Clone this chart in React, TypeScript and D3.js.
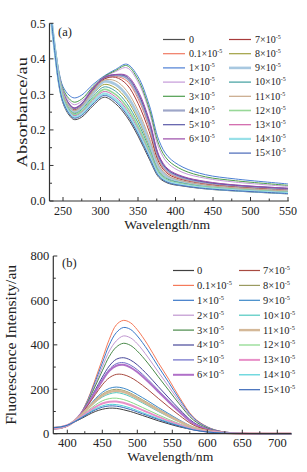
import React from "react";
import * as d3 from "d3";

// ---------- shared ----------
const CONC = ["0", "0.1", "1", "2", "3", "4", "5", "6", "7", "8", "9", "10", "11", "12", "13", "14", "15"];

// ---------- panel (a) absorbance ----------
const WL_A = [235, 240, 245, 250, 258, 265, 275, 290, 305, 320, 335, 350, 365, 378, 390, 410, 440, 480, 550];
const A_0 = [0.5, 0.4, 0.32, 0.275, 0.242, 0.229, 0.236, 0.268, 0.292, 0.274, 0.237, 0.183, 0.118, 0.066, 0.05, 0.042, 0.034, 0.028, 0.02];
const A_01 = [0.5, 0.415, 0.344, 0.302, 0.27, 0.258, 0.27, 0.313, 0.344, 0.351, 0.338, 0.288, 0.207, 0.114, 0.08, 0.062, 0.05, 0.041, 0.032];
const A_1 = [0.5, 0.425, 0.36, 0.322, 0.298, 0.29, 0.298, 0.328, 0.352, 0.37, 0.385, 0.35, 0.27, 0.17, 0.125, 0.095, 0.074, 0.062, 0.048];
const A_2 = [0.5, 0.42, 0.352, 0.312, 0.282, 0.271, 0.281, 0.32, 0.349, 0.364, 0.375, 0.335, 0.252, 0.148, 0.106, 0.08, 0.064, 0.053, 0.041];
const A_3 = [0.5, 0.422, 0.355, 0.316, 0.288, 0.278, 0.287, 0.322, 0.35, 0.367, 0.381, 0.342, 0.26, 0.158, 0.115, 0.087, 0.068, 0.057, 0.044];
const A_4 = [0.5, 0.416, 0.346, 0.304, 0.272, 0.26, 0.272, 0.315, 0.346, 0.354, 0.346, 0.298, 0.216, 0.12, 0.084, 0.065, 0.052, 0.043, 0.034];
const A_5 = [0.5, 0.417, 0.347, 0.305, 0.273, 0.261, 0.273, 0.316, 0.347, 0.355, 0.35, 0.304, 0.222, 0.124, 0.087, 0.067, 0.053, 0.044, 0.035];
const A_6 = [0.5, 0.418, 0.348, 0.306, 0.274, 0.262, 0.274, 0.317, 0.348, 0.356, 0.353, 0.31, 0.228, 0.128, 0.09, 0.069, 0.055, 0.045, 0.036];
const A_7 = [0.5, 0.414, 0.343, 0.301, 0.268, 0.256, 0.268, 0.311, 0.343, 0.348, 0.328, 0.275, 0.195, 0.108, 0.076, 0.059, 0.047, 0.039, 0.03];
const A_8 = [0.5, 0.411, 0.337, 0.295, 0.262, 0.249, 0.261, 0.3, 0.328, 0.318, 0.286, 0.23, 0.156, 0.087, 0.064, 0.052, 0.042, 0.034, 0.026];
const A_9 = [0.5, 0.412, 0.339, 0.297, 0.264, 0.252, 0.264, 0.305, 0.336, 0.328, 0.297, 0.242, 0.166, 0.093, 0.067, 0.054, 0.043, 0.035, 0.027];
const A_10 = [0.5, 0.41, 0.335, 0.292, 0.259, 0.246, 0.257, 0.294, 0.321, 0.309, 0.275, 0.22, 0.148, 0.082, 0.061, 0.05, 0.04, 0.033, 0.025];
const A_11 = [0.5, 0.413, 0.341, 0.299, 0.266, 0.254, 0.266, 0.308, 0.34, 0.338, 0.31, 0.255, 0.178, 0.1, 0.071, 0.056, 0.045, 0.037, 0.028];
const A_12 = [0.5, 0.409, 0.333, 0.289, 0.256, 0.243, 0.253, 0.288, 0.314, 0.3, 0.265, 0.21, 0.14, 0.078, 0.058, 0.048, 0.039, 0.032, 0.024];
const A_13 = [0.5, 0.407, 0.33, 0.286, 0.253, 0.24, 0.249, 0.283, 0.308, 0.293, 0.257, 0.202, 0.134, 0.075, 0.056, 0.046, 0.037, 0.031, 0.023];
const A_14 = [0.5, 0.405, 0.327, 0.282, 0.249, 0.236, 0.245, 0.278, 0.302, 0.286, 0.25, 0.195, 0.128, 0.072, 0.054, 0.045, 0.036, 0.03, 0.022];
const A_15 = [0.5, 0.403, 0.324, 0.279, 0.246, 0.233, 0.241, 0.273, 0.297, 0.28, 0.243, 0.189, 0.123, 0.069, 0.052, 0.043, 0.035, 0.029, 0.021];
const SERIES_A = [A_0, A_01, A_1, A_2, A_3, A_4, A_5, A_6, A_7, A_8, A_9, A_10, A_11, A_12, A_13, A_14, A_15];
const COLORS_A = ["#4d4d4d", "#f07a63", "#4c7fd4", "#c59ad8", "#4e9e4e", "#9ea6c8", "#5a58a8", "#9a4aa8", "#a83a3a",
  "#a0a040", "#a8c8e0", "#3e9e9e", "#c8a888", "#98d898", "#d060a8", "#98e0e8", "#4868b8"];
const WIDTHS_A = [1, 1, 1, 1, 1, 2.2, 1, 1, 1, 1, 2.6, 1, 1, 1.6, 1, 2.2, 1];
const XTICKS_A = [250, 300, 350, 400, 450, 500, 550];
const YTICKS_A = [0, 0.1, 0.2, 0.3, 0.4, 0.5];

// ---------- panel (b) fluorescence ----------
const WL_B = [380, 390, 400, 410, 420, 430, 440, 450, 460, 470, 480, 490, 500, 515, 530, 545, 560, 580, 600, 620, 650, 680, 720];
const F_0 = [28, 31, 38, 52, 68, 85, 100, 110, 115, 114, 108, 100, 90, 74, 58, 44, 31, 18, 9, 4, 1, 0, 0];
const F_01 = [22, 25, 34, 56, 96, 160, 245, 335, 425, 490, 510, 500, 468, 400, 320, 245, 165, 75, 31, 10, 2, 1, 0];
const F_1 = [22, 25, 34, 56, 95, 156, 235, 318, 400, 455, 478, 470, 440, 376, 302, 230, 156, 72, 30, 10, 2, 1, 0];
const F_2 = [22, 25, 34, 56, 94, 152, 225, 300, 372, 418, 440, 432, 405, 345, 278, 212, 145, 67, 28, 9, 2, 0, 0];
const F_3 = [22, 25, 34, 56, 93, 148, 215, 283, 348, 390, 407, 398, 372, 318, 256, 195, 134, 62, 26, 9, 2, 0, 0];
const F_4 = [23, 26, 35, 57, 92, 140, 198, 255, 305, 335, 342, 332, 310, 264, 212, 161, 111, 52, 22, 8, 1, 0, 0];
const F_5 = [23, 26, 35, 57, 91, 137, 191, 244, 290, 315, 320, 309, 288, 245, 196, 149, 103, 48, 20, 7, 1, 0, 0];
const F_6 = [23, 26, 35, 57, 91, 136, 188, 239, 283, 306, 310, 299, 278, 236, 189, 143, 99, 46, 19, 7, 1, 0, 0];
const F_7 = [24, 27, 36, 57, 89, 130, 176, 220, 252, 267, 266, 254, 235, 199, 159, 120, 83, 39, 17, 6, 1, 0, 0];
const F_8 = [25, 28, 37, 57, 85, 119, 152, 178, 194, 200, 195, 183, 166, 139, 111, 84, 58, 28, 12, 5, 1, 0, 0];
const F_9 = [24, 27, 36, 57, 86, 121, 157, 186, 204, 210, 205, 193, 176, 148, 118, 90, 62, 30, 13, 5, 1, 0, 0];
const F_10 = [25, 28, 37, 56, 83, 113, 142, 165, 179, 185, 179, 167, 151, 126, 100, 76, 53, 26, 11, 4, 1, 0, 0];
const F_11 = [25, 28, 37, 56, 84, 116, 147, 172, 187, 193, 188, 176, 159, 133, 106, 80, 56, 27, 12, 5, 1, 0, 0];
const F_12 = [26, 29, 38, 55, 79, 105, 129, 148, 158, 160, 154, 143, 129, 107, 85, 64, 45, 22, 10, 4, 1, 0, 0];
const F_13 = [26, 29, 38, 55, 76, 99, 120, 136, 144, 145, 139, 129, 116, 96, 76, 57, 40, 20, 9, 4, 1, 0, 0];
const F_14 = [27, 30, 38, 54, 73, 93, 112, 125, 132, 131, 125, 116, 104, 86, 68, 51, 36, 18, 8, 3, 1, 0, 0];
const F_15 = [27, 30, 38, 53, 71, 90, 107, 119, 125, 124, 118, 109, 98, 81, 64, 48, 34, 17, 8, 3, 1, 0, 0];
const SERIES_B = [F_0, F_01, F_1, F_2, F_3, F_4, F_5, F_6, F_7, F_8, F_9, F_10, F_11, F_12, F_13, F_14, F_15];
const COLORS_B = ["#404040", "#f57a5a", "#3a78c8", "#c096d0", "#4a8a4a", "#48489a", "#6a6ac8", "#b070c8", "#a84a40",
  "#9a9a60", "#3c88c8", "#50c8c0", "#d4b898", "#88d888", "#e890c8", "#50d0d8", "#3a68b8"];
const WIDTHS_B = [1, 1, 1, 1, 1, 1, 1, 2, 1, 1, 1, 1, 2.4, 1, 2, 1, 1];
const XTICKS_B = [400, 450, 500, 550, 600, 650, 700];
const YTICKS_B = [0, 200, 400, 600, 800];

const FONT = "'Liberation Serif', 'Times New Roman', serif";
const AXIS = "#333";

type PanelProps = {
  tag: string;
  wl: number[];
  series: number[][];
  colors: string[];
  widths: number[];
  xDomain: [number, number];
  xRange: [number, number];
  yDomain: [number, number];
  yRange: [number, number];
  xTicks: number[];
  xMinorStep: number;
  yTicks: number[];
  yMinorStep: number;
  yFmt: (v: number) => string;
  yLabel: string;
  yLabelX: number;
  yLabelLen: number;
  xLabelY: number;
  xTickY: number;
  tickFont: number;
  tagPos: [number, number];
  legend: { x1: number; x2: number; tx: number; y0: number; dy: number; font: number };
};

function LegendLabel({ c, font }: { c: string; font: number }) {
  if (c === "0") return <>{"0"}</>;
  return (
    <>
      {c + "×10"}
      <tspan dy={-4} fontSize={font * 0.6}>{"-5"}</tspan>
    </>
  );
}

function Panel(p: PanelProps) {
  const x = d3.scaleLinear().domain(p.xDomain).range(p.xRange);
  const y = d3.scaleLinear().domain(p.yDomain).range(p.yRange);
  const line = d3
    .line<number>()
    .x((_, i) => x(p.wl[i]))
    .y((v) => y(v))
    .curve(d3.curveCatmullRom.alpha(0.5));

  const xMinor = d3.range(Math.ceil(p.xDomain[0] / p.xMinorStep) * p.xMinorStep, p.xDomain[1] + 0.001, p.xMinorStep);
  const yMinor = d3.range(p.yDomain[0], p.yDomain[1] + 1e-9, p.yMinorStep);
  const [left] = p.xRange;
  const right = p.xRange[1];
  const bottom = p.yRange[0];
  const top = p.yRange[1];

  return (
    <g>
      {p.series.map((s, i) => (
        <path key={i} d={line(s) || ""} fill="none" stroke={p.colors[i]} strokeWidth={p.widths[i]} />
      ))}
      {/* axes */}
      <line x1={left} x2={left} y1={top} y2={bottom} stroke={AXIS} strokeWidth={1.2} />
      <line x1={left} x2={right} y1={bottom} y2={bottom} stroke={AXIS} strokeWidth={1.2} />
      {xMinor.map((t) => {
        const major = p.xTicks.includes(t);
        return <line key={"xm" + t} x1={x(t)} x2={x(t)} y1={bottom} y2={bottom - (major ? 4 : 2.5)} stroke={AXIS} strokeWidth={1} />;
      })}
      {yMinor.map((t, i) => {
        const major = i % 2 === 0;
        return <line key={"ym" + i} x1={left} x2={left + (major ? 4 : 2.5)} y1={y(t)} y2={y(t)} stroke={AXIS} strokeWidth={1} />;
      })}
      {p.xTicks.map((t) => (
        <text key={"xt" + t} x={x(t)} y={p.xTickY} textAnchor="middle" fontFamily={FONT} fontSize={p.tickFont} fill="#222">
          {t}
        </text>
      ))}
      {p.yTicks.map((t) => (
        <text key={"yt" + t} x={left - 4} y={y(t) + p.tickFont * 0.35} textAnchor="end" fontFamily={FONT} fontSize={p.tickFont} fill="#222">
          {p.yFmt(t)}
        </text>
      ))}
      <text
        transform={`translate(${p.yLabelX},${(top + bottom) / 2}) rotate(-90)`}
        textAnchor="middle"
        fontFamily={FONT}
        fontSize={14.5}
        fill="#222"
        textLength={p.yLabelLen}
        lengthAdjust="spacingAndGlyphs"
      >
        {p.yLabel}
      </text>
      <text
        x={(left + right) / 2 - 2}
        y={p.xLabelY}
        textAnchor="middle"
        fontFamily={FONT}
        fontSize={13.5}
        fill="#222"
        textLength={86}
        lengthAdjust="spacingAndGlyphs"
      >
        Wavelength/nm
      </text>
      <text x={p.tagPos[0]} y={p.tagPos[1]} fontFamily={FONT} fontSize={12.5} fill="#222">
        {"(" + p.tag + ")"}
      </text>
      {/* legend */}
      {CONC.map((c, i) => {
        const col = i < 8 ? 0 : 1;
        const row = i < 8 ? i : i - 8;
        const off = col === 0 ? 0 : 66;
        const ly = p.legend.y0 + row * p.legend.dy;
        return (
          <g key={"lg" + i}>
            <line x1={p.legend.x1 + off} x2={p.legend.x2 + off} y1={ly} y2={ly} stroke={p.colors[i]} strokeWidth={Math.max(1.2, p.widths[i])} />
            <text x={p.legend.tx + off} y={ly + p.legend.font * 0.33} fontFamily={FONT} fontSize={p.legend.font} fill="#222">
              <LegendLabel c={c} font={p.legend.font} />
            </text>
          </g>
        );
      })}
    </g>
  );
}

export default function App() {
  return (
    <svg width={307} height={472} style={{ position: "absolute", left: 0, top: 0, background: "#fff" }}>
      <rect width={307} height={472} fill="#fff" />
      <Panel
        tag="a"
        wl={WL_A}
        series={SERIES_A}
        colors={COLORS_A}
        widths={WIDTHS_A}
        xDomain={[232, 551]}
        xRange={[49.5, 288.75]}
        yDomain={[0, 0.5]}
        yRange={[201, 23.3]}
        xTicks={XTICKS_A}
        xMinorStep={25}
        yTicks={YTICKS_A}
        yMinorStep={0.05}
        yFmt={(v) => v.toFixed(1)}
        yLabel="Absorbance/au"
        yLabelX={27}
        yLabelLen={110}
        xLabelY={229}
        xTickY={214.5}
        tickFont={12}
        tagPos={[58, 36]}
        legend={{ x1: 163, x2: 185, tx: 189, y0: 39.5, dy: 14.2, font: 10 }}
      />
      <Panel
        tag="b"
        wl={WL_B}
        series={SERIES_B}
        colors={COLORS_B}
        widths={WIDTHS_B}
        xDomain={[380, 720]}
        xRange={[53.3, 291.3]}
        yDomain={[0, 800]}
        yRange={[433.7, 256]}
        xTicks={XTICKS_B}
        xMinorStep={25}
        yTicks={YTICKS_B}
        yMinorStep={100}
        yFmt={(v) => String(v)}
        yLabel="Fluorescence Intensity/au"
        yLabelX={16}
        yLabelLen={160}
        xLabelY={461}
        xTickY={446.5}
        tickFont={12.5}
        tagPos={[62, 267]}
        legend={{ x1: 173, x2: 194, tx: 197, y0: 270.5, dy: 14.9, font: 10.5 }}
      />
    </svg>
  );
}
